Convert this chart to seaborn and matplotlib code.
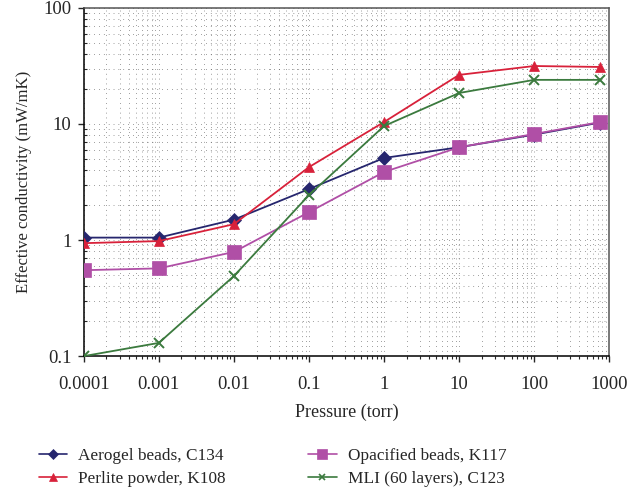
import seaborn as sns
import pandas as pd
import numpy as np
import matplotlib
matplotlib.use('Agg')
import matplotlib.pyplot as plt
from matplotlib.lines import Line2D
from matplotlib.ticker import FuncFormatter, LogLocator, NullFormatter

pressure = [0.0001, 0.001, 0.01, 0.1, 1, 10, 100, 760]
aerogel = [1.05, 1.05, 1.5, 2.75, 5.1, 6.3, 8.1, 10.3]
perlite = [0.94, 0.98, 1.37, 4.25, 10.4, 26.5, 31.6, 31.0]
opacified = [0.55, 0.57, 0.79, 1.74, 3.86, 6.3, 8.2, 10.4]
mli = [0.1, 0.13, 0.49, 2.44, 9.6, 18.5, 24.0, 24.0]

names = ['Aerogel beads, C134', 'Perlite powder, K108',
         'Opacified beads, K117', 'MLI (60 layers), C123']
series = [aerogel, perlite, opacified, mli]
colors = ['#26266e', '#d8213a', '#b04fa6', '#3b7a3e']
markers = ['D', '^', 's', 'x']
msizes = [7, 7.5, 10, 7]
leg_sizes = [5, 5.5, 7, 4.5]

sns.set_style('ticks')
plt.rcParams['font.family'] = ['Liberation Serif', 'DejaVu Serif']

fig = plt.figure(figsize=(6.3, 4.96), dpi=100)
ax = fig.add_axes([0.133, 0.282, 0.834, 0.702])

for name, vals, c, m, ms in zip(names, series, colors, markers, msizes):
    df = pd.DataFrame({'p': pressure, 'k': vals})
    sns.lineplot(data=df, x='p', y='k', ax=ax, color=c, marker=m,
                 linewidth=1.3, legend=False, zorder=3)
    line = ax.lines[-1]
    line.set_markersize(ms)
    line.set_markeredgecolor(c)
    line.set_markerfacecolor(c)
    line.set_markeredgewidth(1.4 if m == 'x' else 0.5)

ax.set_xscale('log')
ax.set_yscale('log')
ax.set_xlim(0.0001, 1000)
ax.set_ylim(0.1, 100)

fmt = FuncFormatter(lambda v, pos: '%g' % v)
ax.xaxis.set_major_formatter(fmt)
ax.yaxis.set_major_formatter(fmt)
ax.xaxis.set_minor_locator(LogLocator(base=10, subs=np.arange(2, 10)))
ax.yaxis.set_minor_locator(LogLocator(base=10, subs=np.arange(2, 10)))
ax.xaxis.set_minor_formatter(NullFormatter())
ax.yaxis.set_minor_formatter(NullFormatter())

ax.grid(True, which='both', color='#444444', linestyle=(0, (1, 6)), linewidth=0.5)
ax.tick_params(axis='x', which='major', direction='out', length=4, width=1, labelsize=13.5, pad=10)
ax.tick_params(axis='x', which='minor', direction='out', length=2.5, width=0.8)
ax.tick_params(axis='y', which='major', direction='out', length=4, width=1, labelsize=13.5, pad=5)
ax.tick_params(axis='y', which='minor', direction='in', length=2.5, width=0.8)
for s in ax.spines.values():
    s.set_color('black')
    s.set_linewidth(1.1)
ax.spines['top'].set_color('#555555')
ax.spines['right'].set_color('#555555')

ax.set_xlabel('Pressure (torr)', fontsize=13, labelpad=8)
ax.set_ylabel('Effective conductivity (mW/mK)', fontsize=12, labelpad=8)

# legend uses its own small-marker handles
handles = [Line2D([], [], color=c, marker=m, markersize=s, markerfacecolor=c,
                  markeredgecolor=c, markeredgewidth=1.2 if m == 'x' else 0.5, linewidth=1.2)
           for c, m, s in zip(colors, markers, leg_sizes)]
fig.legend(handles, names, ncol=2, loc='upper left', bbox_to_anchor=(39 / 630, 1 - 448 / 496),
           bbox_transform=fig.transFigure, frameon=False, fontsize=12.4, borderpad=0,
           borderaxespad=0, handlelength=1.63, handletextpad=0.65, columnspacing=4.8,
           labelspacing=0.4)

fig.savefig('out.png', dpi=100)
